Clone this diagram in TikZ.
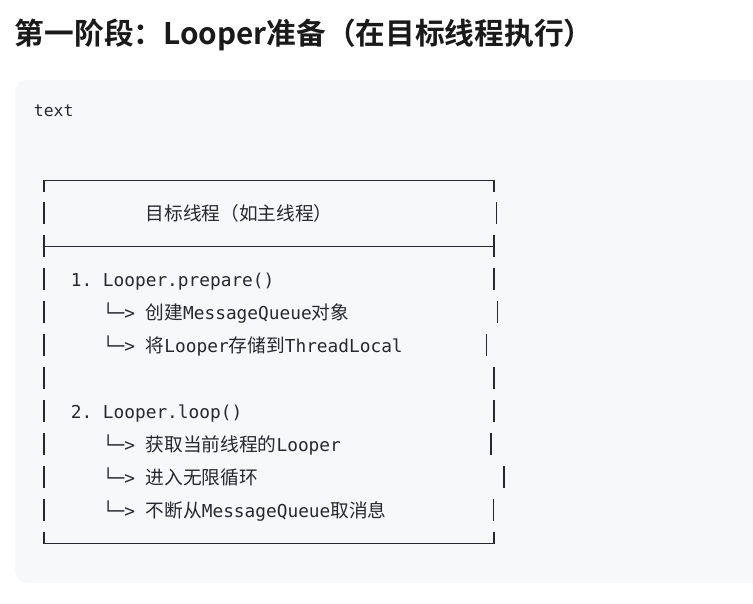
\documentclass[tikz,border=0pt]{standalone}
\usepackage{fontspec}
\usepackage{xcolor}
\usepackage{tikz}
\setmonofont{DejaVu Sans Mono}
\newfontfamily\cjk{Noto Sans CJK SC}[Scale=1.05]
\newfontfamily\cjkhead{Noto Sans CJK SC Bold}
\definecolor{codebg}{HTML}{F7F8FA}
\definecolor{codeink}{HTML}{24292F}
\definecolor{headink}{HTML}{1A1A1A}

\begin{document}
\begin{tikzpicture}[x=1pt, y=-1pt,
    every node/.style={inner sep=0pt, outer sep=0pt, anchor=base west},
    heading/.style={font=\cjkhead\fontsize{29.7}{32}\selectfont, text=headink},
    lang/.style={font=\ttfamily\fontsize{16.4}{18}\selectfont, text=codeink},
    codeline/.style={font=\ttfamily\fontsize{17.8}{20}\selectfont, text=codeink},
    rule/.style={draw=codeink, line width=1.2pt},
    bar/.style={draw=codeink, line width=1.4pt}]
\useasboundingbox (0,0) rectangle (753,603);
\clip (0,0) rectangle (753,603);
\fill[codebg, rounded corners=12pt] (15,80) rectangle (780,583);

\node[heading] (head) at (15,44) {第一阶段：Looper准备（在目标线程执行）};
\node[lang] (lang) at (34,116) {text};

% frame corners
\coordinate (tl) at (44,180.7);
\coordinate (tr) at (494,180.7);
\coordinate (ml) at (44,246.3);
\coordinate (mr) at (494,246.3);
\coordinate (bl) at (44,543.3);
\coordinate (br) at (494,543.3);

\draw[rule] (44,191.7) -- (tl) -- (tr) -- (494,191.7);
\draw[rule] (44,235) -- (44,257.3);
\draw[rule] (ml) -- (mr);
\draw[rule] (494,235) -- (494,257.3);
\draw[rule] (44,532.3) -- (bl) -- (br) -- (494,532.3);

% left bars
\draw[bar] (44,201.8) -- (44,224.2);
\draw[bar] (44,267.8) -- (44,290.2);
\draw[bar] (44,300.8) -- (44,323.2);
\draw[bar] (44,333.8) -- (44,356.2);
\draw[bar] (44,366.8) -- (44,389.2);
\draw[bar] (44,399.8) -- (44,422.2);
\draw[bar] (44,432.8) -- (44,455.2);
\draw[bar] (44,465.8) -- (44,488.2);
\draw[bar] (44,498.8) -- (44,521.2);
% right bars
\draw[bar] (496.3,201.8) -- (496.3,224.2);
\draw[bar] (494,267.8) -- (494,290.2);
\draw[bar] (497.3,300.8) -- (497.3,323.2);
\draw[bar] (486.3,333.8) -- (486.3,356.2);
\draw[bar] (494,366.8) -- (494,389.2);
\draw[bar] (494,399.8) -- (494,422.2);
\draw[bar] (491,432.8) -- (491,455.2);
\draw[bar] (504,465.8) -- (504,488.2);
\draw[bar] (493.3,498.8) -- (493.3,521.2);

\node[codeline] (title) at (145.7,220) {{\cjk 目标线程（如主线程）}};
\node[codeline] (prep) at (70.8,286.5) {1. Looper.prepare()};
\node[codeline] (prepA) at (102.9,319.7) {└─> {\cjk 创建}MessageQueue{\cjk 对象}};
\node[codeline] (prepB) at (102.9,352.8) {└─> {\cjk 将}Looper{\cjk 存储到}ThreadLocal};
\node[codeline] (loop) at (70.8,418.7) {2. Looper.loop()};
\node[codeline] (loopA) at (102.9,451.4) {└─> {\cjk 获取当前线程的}Looper};
\node[codeline] (loopB) at (102.9,484.8) {└─> {\cjk 进入无限循环}};
\node[codeline] (loopC) at (102.9,517.7) {└─> {\cjk 不断从}MessageQueue{\cjk 取消息}};
\end{tikzpicture}
\end{document}
